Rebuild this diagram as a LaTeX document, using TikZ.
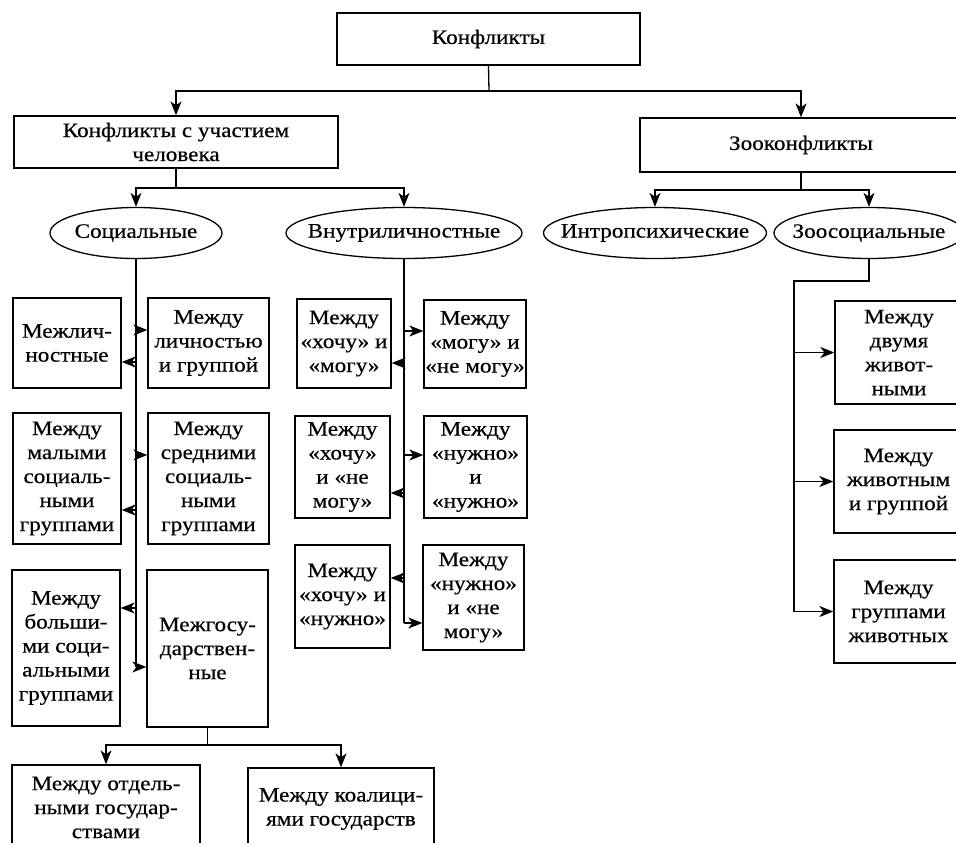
\documentclass[tikz,border=0pt]{standalone}
\usepackage{fontspec}
\setmainfont{Liberation Serif}[FakeStretch=1.13,FakeBold=0.4]
\usetikzlibrary{shapes.geometric,arrows.meta}
\begin{document}
\begin{tikzpicture}[x=1pt,y=-1pt,
  line width=1.3pt,
  bx/.style={draw, rectangle, inner sep=0pt, align=center, font=\fontsize{20.5}{24}\selectfont},
  ell/.style={draw, ellipse, inner sep=0pt, font=\fontsize{20.5}{24}\selectfont},
  arr/.style={-{Stealth[length=14pt,width=11pt,inset=4pt]}}]
\useasboundingbox (0,0) rectangle (956,843);

% top levels
\node[bx, minimum width=303pt, minimum height=52pt] (root) at (488.5,39) {Конфликты};
\node[bx, minimum width=324pt, minimum height=52pt] (hum) at (176,142) {Конфликты с участием\\человека};
\node[bx, minimum width=322pt, minimum height=54pt] (zoo) at (801,145) {Зооконфликты};

% ellipses
\node[ell, minimum width=172pt, minimum height=51pt] (soc) at (136,233) {\makebox[0pt]{Социальные}};
\node[ell, minimum width=236pt, minimum height=51pt] (vnut) at (404,233) {\makebox[0pt]{Внутриличностные}};
\node[ell, minimum width=223pt, minimum height=51pt] (intro) at (655,233) {\makebox[0pt]{Интропсихические}};
\node[ell, minimum width=190pt, minimum height=51pt] (zsoc) at (869,233) {\makebox[0pt]{Зоосоциальные}};

% social column
\node[bx, minimum width=108pt, minimum height=90pt] (s1) at (67,343) {Межлич-\\ностные};
\node[bx, minimum width=121pt, minimum height=90pt] (s2) at (208.5,343) {Между\\личностью\\и группой};
\node[bx, minimum width=108pt, minimum height=131pt] (s3) at (67,478.5) {Между\\малыми\\социаль-\\ными\\группами};
\node[bx, minimum width=121pt, minimum height=131pt] (s4) at (208.5,478.5) {Между\\средними\\социаль-\\ными\\группами};
\node[bx, minimum width=108pt, minimum height=156pt] (s5) at (66,648) {Между\\больши-\\ми соци-\\альными\\группами};
\node[bx, minimum width=121pt, minimum height=157pt] (s6) at (207.5,648.5) {Межгосу-\\дарствен-\\ные};
\node[bx, minimum width=188pt, minimum height=85pt] (b1) at (106,807.5) {Между отдель-\\ными государ-\\ствами};
\node[bx, minimum width=186pt, minimum height=82pt] (b2) at (341,809) {Между коалици-\\ями государств};

% inner column
\node[bx, minimum width=94pt, minimum height=89pt] (i1) at (344,343.5) {Между\\«хочу» и\\«могу»};
\node[bx, minimum width=102pt, minimum height=88pt] (i2) at (475,344) {Между\\«могу» и\\«не могу»};
\node[bx, minimum width=95pt, minimum height=102pt] (i3) at (342.5,467) {Между\\«хочу»\\и «не\\могу»};
\node[bx, minimum width=103pt, minimum height=102pt] (i4) at (475.5,467) {Между\\«нужно»\\и\\«нужно»};
\node[bx, minimum width=95pt, minimum height=103pt] (i5) at (342.5,596.5) {Между\\«хочу» и\\«нужно»};
\node[bx, minimum width=101pt, minimum height=105pt] (i6) at (473.5,597.5) {Между\\«нужно»\\и «не\\могу»};

% right column
\node[bx, minimum width=128pt, minimum height=103pt] (r1) at (899,352.5) {Между\\двумя\\живот-\\ными};
\node[bx, minimum width=129pt, minimum height=103pt] (r2) at (898.5,481.5) {Между\\животным\\и группой};
\node[bx, minimum width=129pt, minimum height=103pt] (r3) at (898.5,611.5) {Между\\группами\\животных};

% connectors: top
\coordinate (j0) at (489,91);
\draw (root.south) -- (j0);
\draw[arr] (j0) -| (hum.north);
\draw[arr] (j0) -| (zoo.north);
\coordinate (j1) at (176,188);
\draw (hum.south) -- (j1);
\draw[arr] (j1) -| (soc.north);
\draw[arr] (j1) -| (vnut.north);
\coordinate (j2) at (801,190);
\draw (zoo.south) -- (j2);
\draw[arr] (j2) -| (intro.north);
\draw[arr] (j2) -| (zsoc.north);

% social
\coordinate (sa1) at ([yshift=13pt]s2.west);
\coordinate (sa2) at ([yshift=-19pt]s1.east);
\coordinate (sa3) at ([yshift=23.5pt]s4.west);
\coordinate (sa4) at ([yshift=-31.5pt]s3.east);
\coordinate (sa5) at ([yshift=40pt]s5.east);
\coordinate (sa6) at ([yshift=-18.5pt]s6.west);
\draw (soc.south) -- (soc.south |- sa6);
\foreach \c in {sa1,sa2,sa3,sa4,sa5,sa6} {\draw[arr] (soc.south |- \c) -- (\c);}
\coordinate (jb) at (207.5,745);
\draw (s6.south) -- (jb);
\draw[arr] (jb) -| (b1.north);
\draw[arr] (jb) -| (b2.north);

% inner
\coordinate (ia1) at ([yshift=13pt]i2.west);
\coordinate (ia2) at ([yshift=-19.5pt]i1.east);
\coordinate (ia3) at ([yshift=12pt]i4.west);
\coordinate (ia4) at ([yshift=-26pt]i3.east);
\coordinate (ia5) at ([yshift=18.5pt]i5.east);
\coordinate (ia6) at ([yshift=-25.5pt]i6.west);
\draw (vnut.south) -- (vnut.south |- ia6);
\foreach \c in {ia1,ia2,ia3,ia4,ia5,ia6} {\draw[arr] (vnut.south |- \c) -- (\c);}

% right
\coordinate (zr) at (794,281);
\draw[arr] (zsoc.south) |- (zr) |- (r3.west);
\draw[arr] (zr |- r1.west) -- (r1.west);
\draw[arr] (zr |- r2.west) -- (r2.west);
\end{tikzpicture}
\end{document}
